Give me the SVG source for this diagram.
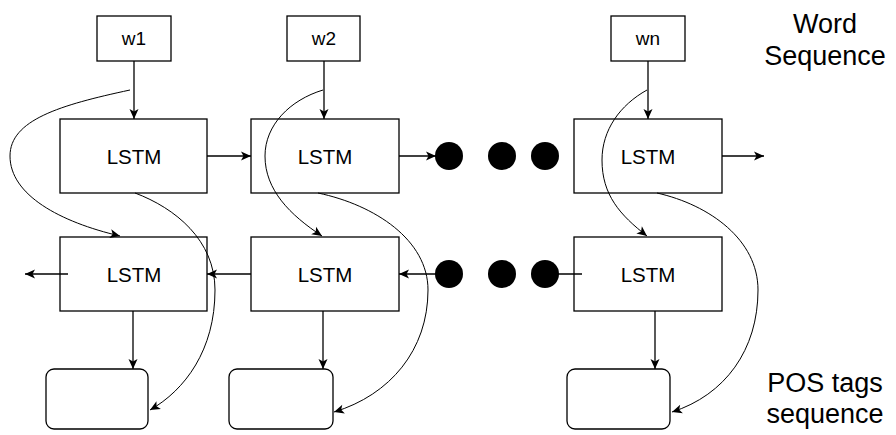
<svg xmlns="http://www.w3.org/2000/svg" width="896" height="435" viewBox="0 0 896 435">
<defs>
<marker id="ah" markerUnits="userSpaceOnUse" markerWidth="12" markerHeight="12" viewBox="0 0 12 12" refX="11" refY="6" orient="auto">
<path d="M1,1.5 L11,6 L1,10.5 L3.5,6 Z" fill="#000"/>
</marker>
</defs>
<style>
.box{fill:#fff;stroke:#000;stroke-width:1.3}
.t{font-family:"Liberation Sans",Arial,sans-serif;fill:#000;text-anchor:middle}
.w{font-size:19px}
.l{font-size:20.5px}
.big{font-size:27px}
.ln{fill:none;stroke:#000;stroke-width:1.3}
.cv{fill:none;stroke:#000;stroke-width:1}
.dot{fill:#000}
</style>
<rect width="896" height="435" fill="#fff"/>
<g id="w1"><rect class="box" x="97" y="16" width="74" height="45"/><text class="t w" x="134" y="45">w1</text></g>
<g id="w2"><rect class="box" x="287" y="16" width="73" height="45"/><text class="t w" x="324" y="45">w2</text></g>
<g id="wn"><rect class="box" x="611" y="16" width="74" height="45"/><text class="t w" x="648" y="45">wn</text></g>
<g id="f1"><rect class="box" x="60" y="119" width="147" height="74"/><text class="t l" x="134" y="164">LSTM</text></g>
<g id="f2"><rect class="box" x="251" y="119" width="148" height="74"/><text class="t l" x="325" y="164">LSTM</text></g>
<g id="f3"><rect class="box" x="574" y="119" width="148" height="74"/><text class="t l" x="648" y="164">LSTM</text></g>
<g id="b1"><rect class="box" x="60" y="237" width="147" height="74"/><text class="t l" x="134" y="282">LSTM</text></g>
<g id="b2"><rect class="box" x="251" y="237" width="148" height="74"/><text class="t l" x="325" y="282">LSTM</text></g>
<g id="b3"><rect class="box" x="574" y="237" width="148" height="74"/><text class="t l" x="648" y="282">LSTM</text></g>
<g id="o1"><rect class="box" x="46" y="369" width="102" height="60" rx="8"/></g>
<g id="o2"><rect class="box" x="229" y="369" width="104" height="60" rx="8"/></g>
<g id="o3"><rect class="box" x="567" y="369" width="103" height="60" rx="8"/></g>
<g id="dots-top"><circle class="dot" cx="449" cy="156" r="14"/><circle class="dot" cx="502" cy="156" r="14"/><circle class="dot" cx="545" cy="156" r="14"/></g>
<g id="dots-bottom"><circle class="dot" cx="449" cy="274" r="14"/><circle class="dot" cx="502" cy="274" r="14"/><circle class="dot" cx="545" cy="274" r="14"/></g>
<g id="label-word"><text class="t big" x="825" y="33">Word</text><text class="t big" x="825" y="65">Sequence</text></g>
<g id="label-pos"><text class="t big" x="825" y="392">POS tags</text><text class="t big" x="825" y="423">sequence</text></g>
<g id="connectors">
<line class="ln" x1="134" y1="61" x2="134" y2="119" marker-end="url(#ah)"/>
<line class="ln" x1="324" y1="61" x2="324" y2="119" marker-end="url(#ah)"/>
<line class="ln" x1="648" y1="61" x2="648" y2="119" marker-end="url(#ah)"/>
<line class="ln" x1="207" y1="156" x2="251" y2="156" marker-end="url(#ah)"/>
<line class="ln" x1="399" y1="156" x2="436" y2="156" marker-end="url(#ah)"/>
<line class="ln" x1="722" y1="156" x2="764" y2="156" marker-end="url(#ah)"/>
<line class="ln" x1="68" y1="274" x2="25" y2="274" marker-end="url(#ah)"/>
<line class="ln" x1="251" y1="274" x2="207" y2="274" marker-end="url(#ah)"/>
<line class="ln" x1="449" y1="274" x2="399" y2="274" marker-end="url(#ah)"/>
<line class="ln" x1="545" y1="274" x2="582" y2="274"/>
<line class="ln" x1="133" y1="311" x2="133" y2="369" marker-end="url(#ah)"/>
<line class="ln" x1="323" y1="311" x2="323" y2="369" marker-end="url(#ah)"/>
<line class="ln" x1="655" y1="311" x2="655" y2="369" marker-end="url(#ah)"/>
<path class="cv" d="M130 90 C60 105 10 120 10 156 C10 195 60 222 120 236" marker-end="url(#ah)"/>
<path class="cv" d="M135 193 C175 208 215 240 215 290 C215 350 185 390 150 410" marker-end="url(#ah)"/>
<path class="cv" d="M323 90 C290 100 265 125 265 156 C265 190 290 215 322 236" marker-end="url(#ah)"/>
<path class="cv" d="M318 193 C375 205 428 240 428 290 C428 350 390 395 334 412" marker-end="url(#ah)"/>
<path class="cv" d="M647 90 C620 105 602 130 602 160 C602 195 620 215 647 236" marker-end="url(#ah)"/>
<path class="cv" d="M657 193 C710 205 758 240 758 290 C758 350 725 395 672 412" marker-end="url(#ah)"/>
</g>
</svg>
